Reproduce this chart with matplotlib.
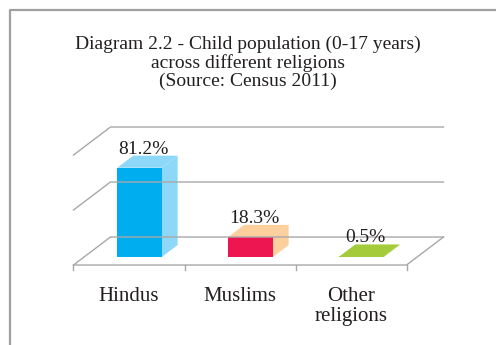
import matplotlib
matplotlib.use("Agg")
import matplotlib.pyplot as plt
from matplotlib.patches import Polygon

# data
categories = ["Hindus", "Muslims", "Other\nreligions"]
shares = [81.2, 18.3, 0.5]
front_colors = ["#00AEEF", "#ED1651", "#A4CC3A"]
light_colors = ["#8DD8F8", "#FDCF9C", "#A4CC3A"]
grid_levels = [0, 50, 100]

plt.rcParams["font.family"] = ["Liberation Serif", "DejaVu Serif"]
ink = "#231F20"
gray = "#A8A8A8"

fig = plt.figure(figsize=(4.96, 3.45), dpi=100)
ax = fig.add_axes([0, 0, 1, 1])
ax.set_xlim(-1.162, 3.306)
ax.set_ylim(-72.7, 240.9)
ax.axis("off")

# oblique depth offset (x in category units, y in percent)
DX = 0.333
DY = 25.45


def proj(x, v, d):
    return (x + d * DX, v + d * DY)


# outer frame
ax.plot([10 / 496, 10 / 496, 1.0], [0, 1 - 9.5 / 345, 1 - 9.5 / 345],
        transform=ax.transAxes, color="#A0A0A0", lw=1.6, solid_capstyle="butt")

# walls and floor
left, right = -0.5, len(categories) - 0.5
for g in grid_levels:
    ax.plot(*zip(proj(left, g, 0), proj(left, g, 1), proj(right, g, 1)),
            color=gray, lw=1.0)
ax.plot(*zip(proj(left, 0, 0), proj(right, 0, 0), proj(right, 0, 1)),
        color=gray, lw=1.0)
for i in range(len(categories) + 1):
    x = left + i
    ax.plot([x, x], [0, -4.5], color=gray, lw=1.0)

# 3d bars
hw = 0.2
d0, d1 = 0.285, 0.715
for i, (val, fc, lc) in enumerate(zip(shares, front_colors, light_colors)):
    xa, xb = i - hw, i + hw
    front = [proj(xa, 0, d0), proj(xb, 0, d0), proj(xb, val, d0), proj(xa, val, d0)]
    side = [proj(xb, 0, d0), proj(xb, 0, d1), proj(xb, val, d1), proj(xb, val, d0)]
    top = [proj(xa, val, d0), proj(xb, val, d0), proj(xb, val, d1), proj(xa, val, d1)]
    ax.add_patch(Polygon(side, closed=True, facecolor=lc, edgecolor="none"))
    ax.add_patch(Polygon(top, closed=True, facecolor=lc, edgecolor="none"))
    ax.add_patch(Polygon(front, closed=True, facecolor=fc, edgecolor="none"))
    lx, ly = proj(i + 0.13 - d1 * DX, val, d1)
    ax.text(lx, ly + 1.8, f"{val:.1f}%", ha="center", va="baseline",
            fontsize=14, color=ink)

# category labels
for i, name in enumerate(categories):
    ax.text(i, -20, name, ha="center", va="top", fontsize=15,
            color=ink, linespacing=1.05)

fig.text(0.5, 1 - 36 / 345, "Diagram 2.2 - Child population (0-17 years)\n"
         "across different religions\n(Source: Census 2011)",
         ha="center", va="top", fontsize=14, color=ink, linespacing=1.05)

fig.savefig("out.png", dpi=100, facecolor="white")
